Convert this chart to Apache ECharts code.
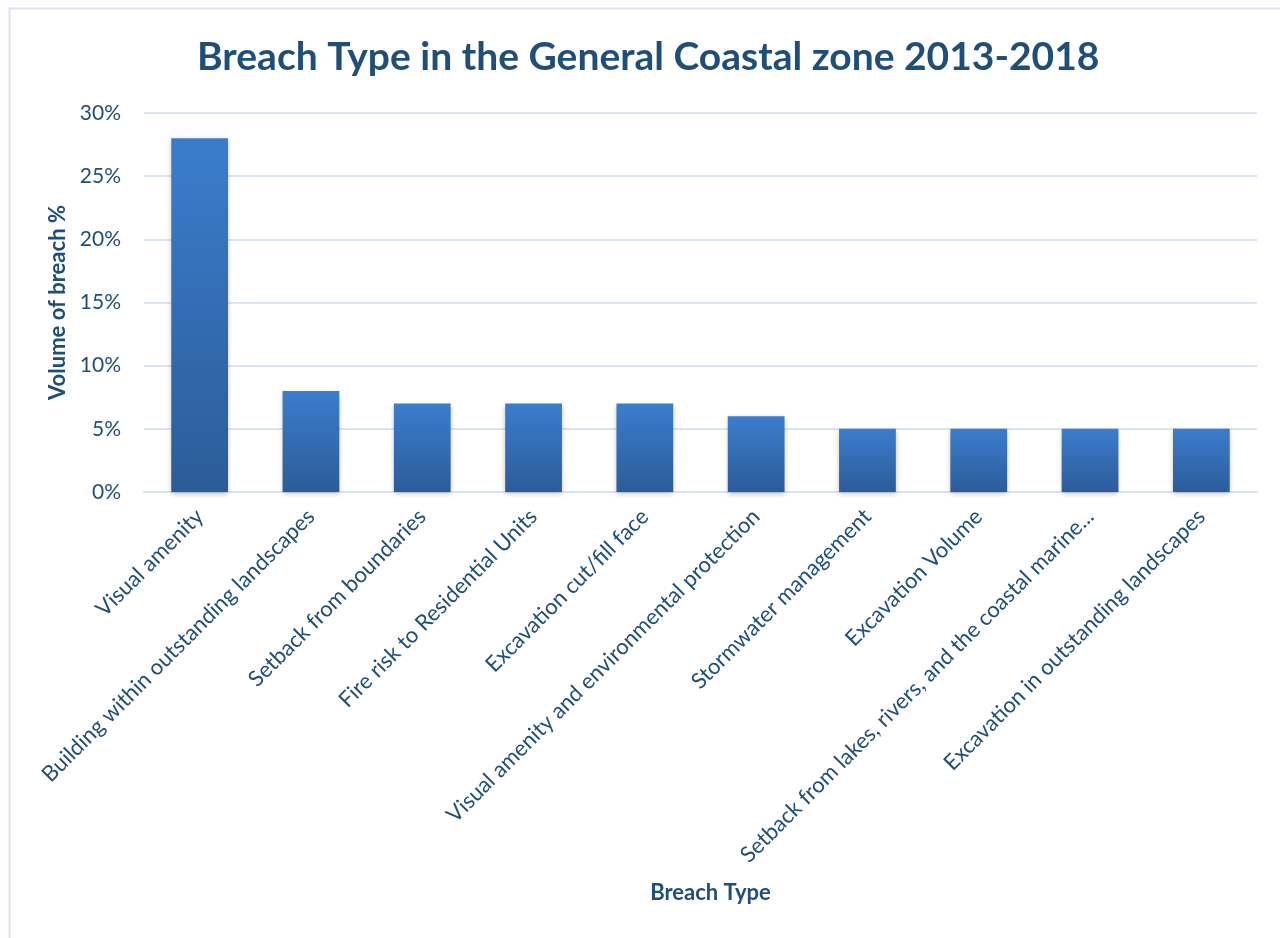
<!DOCTYPE html>
<html lang="en" style="height: 100%">
<head>
  <meta charset="utf-8">
  <script src="https://cdn.jsdelivr.net/npm/echarts@6/dist/echarts.min.js"></script>
</head>
<body style="height: 100%; margin: 0; background: #fff">
  <div id="container" style="width: 1280px; height: 938px"></div>

  <script type="text/javascript">
    var categories = [
      'Visual amenity',
      'Building within outstanding landscapes',
      'Setback from boundaries',
      'Fire risk to Residential Units',
      'Excavation cut/fill face',
      'Visual amenity and environmental protection',
      'Stormwater management',
      'Excavation Volume',
      'Setback from lakes, rivers, and the coastal marine...',
      'Excavation in outstanding landscapes'
    ];
    var breachPct = [28, 8, 7, 7, 7, 6, 5, 5, 5, 5];

    var textColor = '#1F4E79';
    var font = 'Lato, "Open Sans", sans-serif';

    var chart = echarts.init(document.getElementById('container'), null, { renderer: 'canvas' });

    var option = {
      animation: false,
      graphic: [{
        type: 'rect',
        shape: { x: 9.5, y: 8.5, width: 1400, height: 1000 },
        style: { fill: 'none', stroke: '#DAE3F3', lineWidth: 2 }
      }],
      title: {
        text: 'Breach Type in the General Coastal zone 2013-2018',
        left: 192,
        top: 33,
        textStyle: { color: textColor, fontSize: 39, fontWeight: 'bold', fontFamily: font }
      },
      grid: { left: 144, right: 23, top: 113, bottom: 446 },
      xAxis: {
        type: 'category',
        data: categories,
        name: 'Breach Type',
        nameLocation: 'middle',
        nameGap: 390,
        nameTextStyle: {
          color: textColor, fontSize: 22, fontWeight: 'bold', fontFamily: font,
          padding: [0, 0, 0, 20]
        },
        axisLine: { lineStyle: { color: '#D9E3F2', width: 2 } },
        axisTick: { show: false },
        axisLabel: {
          interval: 0,
          rotate: 45,
          margin: 21,
          color: textColor,
          fontSize: 22,
          fontFamily: font
        }
      },
      yAxis: {
        type: 'value',
        min: 0,
        max: 30,
        interval: 5,
        name: 'Volume of breach %',
        nameLocation: 'middle',
        nameGap: 72,
        nameTextStyle: { color: textColor, fontSize: 22, fontWeight: 'bold', fontFamily: font },
        axisLabel: {
          formatter: '{value}%',
          color: textColor,
          fontSize: 21,
          margin: 23,
          fontFamily: font
        },
        splitLine: { lineStyle: { color: '#D9E3F2', width: 2 } }
      },
      series: [{
        type: 'bar',
        data: breachPct,
        barWidth: '51%',
        itemStyle: {
          color: new echarts.graphic.LinearGradient(0, 0, 0, 1, [
            { offset: 0, color: '#3B7DCD' },
            { offset: 1, color: '#2C5C98' }
          ]),
          shadowColor: 'rgba(0,0,0,0.25)',
          shadowBlur: 5,
          shadowOffsetY: 2
        }
      }]
    };

    chart.setOption(option);
    window.addEventListener('resize', chart.resize);
  </script>
</body>
</html>
